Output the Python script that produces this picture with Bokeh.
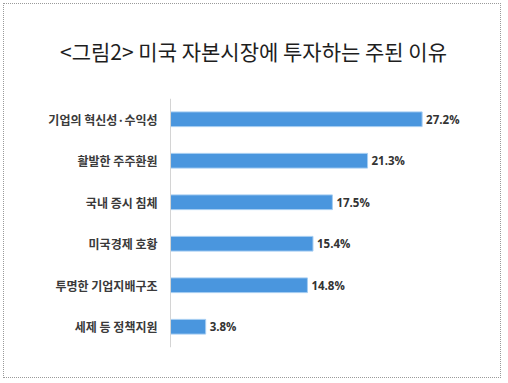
from bokeh.plotting import figure
from bokeh.models import ColumnDataSource, FactorRange, Range1d, Title, Span
from bokeh.core.properties import value
from bokeh.embed import file_html
from bokeh.resources import INLINE

title_text = "<그림2> 미국 자본시장에 투자하는 주된 이유"
categories = ["기업의 혁신성·수익성", "활발한 주주환원", "국내 증시 침체",
              "미국경제 호황", "투명한 기업지배구조", "세제 등 정책지원"]
values = [27.2, 21.3, 17.5, 15.4, 14.8, 3.8]
value_labels = [f"{v}%" for v in values]
zeros = [0] * len(categories)

FONT = "Noto Sans CJK KR"

src = ColumnDataSource(data=dict(cat=categories, val=values, lab=value_labels, zero=zeros))

p = figure(width=498, height=375, output_backend="svg", toolbar_location=None,
           y_range=FactorRange(factors=list(reversed(categories))),
           x_range=Range1d(-17.95, 35.89),
           min_border_left=0, min_border_right=0,
           min_border_top=89, min_border_bottom=32)
p.styles = {"border": "1px dotted #9a9a9a", "margin": "3px 0 0 3px"}

p.hbar(y="cat", right="val", left=0, height=0.355, source=src,
       fill_color="#4A96DE", line_color="#A5CDF2", line_width=1)

p.text(x="val", y="cat", text="lab", source=src, x_offset=4,
       text_baseline="middle", text_align="left",
       text_font=value("Open Sans"), text_font_style="bold",
       text_font_size="11.5px", text_color="#333333")

p.text(x="zero", y="cat", text="cat", source=src, x_offset=-13,
       text_baseline="middle", text_align="right",
       text_font=value(FONT), text_font_style="bold",
       text_font_size="12px", text_color="#3a3a3a")

p.add_layout(Span(location=0, dimension="height", line_color="#d4d4d4", line_width=1))

p.xaxis.visible = False
p.yaxis.visible = False
p.xgrid.visible = False
p.ygrid.visible = False
p.outline_line_color = None

title = Title(text=title_text, align="center", standoff=62, vertical_align="top",
              text_font=FONT, text_font_size="21px", text_font_style="normal",
              text_color="#1e1e1e")
p.add_layout(title, "above")

open("out.html", "w").write(file_html(p, INLINE))
